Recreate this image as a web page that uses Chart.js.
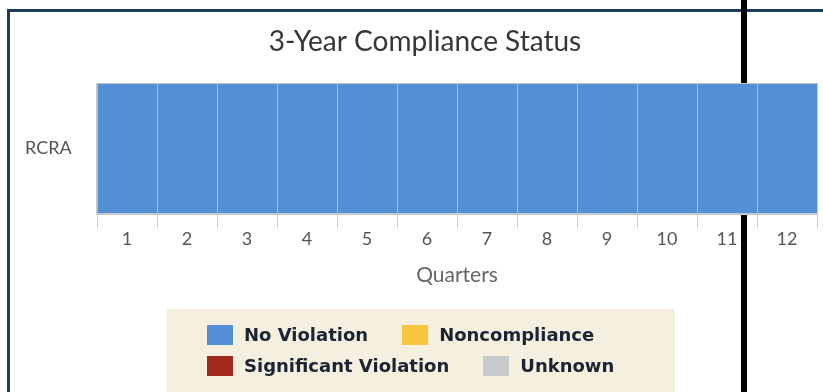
<!DOCTYPE html>
<html>
<head>
<meta charset="utf-8">
<script src="https://cdn.jsdelivr.net/npm/chart.js@4/dist/chart.umd.min.js"></script>
<style>
  html, body { margin: 0; padding: 0; background: #ffffff; }
  body { width: 823px; height: 392px; position: relative; overflow: hidden; }
  #frame {
    position: absolute; left: 7px; top: 9px; right: -10px; bottom: -10px;
    border-top: 3px solid #1f3b5e; border-left: 3px solid #1f3b5e;
  }
  #divider { position: absolute; left: 741px; top: 0; width: 6px; height: 392px; background: #000; }
  #chart { position: absolute; left: 0; top: 0; z-index: 2; }
  #legend {
    position: absolute; left: 166px; top: 309px; width: 509px; height: 83px;
    background: #f4efdf; z-index: 3; box-sizing: border-box; padding: 10px 0 0 41px;
    font-family: "DejaVu Sans", sans-serif; font-weight: bold; font-size: 18px; color: #1c2331;
    filter: blur(0.6px);
  }
  .row { display: flex; align-items: center; height: 31px; }
  .item { display: flex; align-items: center; margin-right: 34px; white-space: nowrap; }
  .swatch { width: 26px; height: 20px; margin-right: 11px; }
</style>
</head>
<body>
<div id="frame"></div>
<div id="divider"></div>
<canvas id="chart" width="823" height="392"></canvas>
<div id="legend"></div>
<script>
// Quarters on the horizontal axis, one program row
const quarters = ['1', '2', '3', '4', '5', '6', '7', '8', '9', '10', '11', '12'];
const programs = ['RCRA'];

// Compliance status of the RCRA program in each quarter
const rcraStatus = ['No Violation', 'No Violation', 'No Violation', 'No Violation',
                    'No Violation', 'No Violation', 'No Violation', 'No Violation',
                    'No Violation', 'No Violation', 'No Violation', 'No Violation'];
// Each quarter fills one full cell of the row
const rcraCell = [1, 1, 1, 1, 1, 1, 1, 1, 1, 1, 1, 1];

// Status legend, in display order (two rows of two)
const statusNames = ['No Violation', 'Noncompliance', 'Significant Violation', 'Unknown'];
const statusColors = ['#528fd6', '#f8c63e', '#a22a1a', '#c8cacd'];

const colorOf = name => statusColors[statusNames.indexOf(name)];

// Outline of the plotting area
const areaOutline = {
  id: 'areaOutline',
  afterDraw(chart) {
    const { ctx, chartArea: a } = chart;
    ctx.save();
    ctx.strokeStyle = '#c9c9c9';
    ctx.lineWidth = 1;
    ctx.strokeRect(Math.round(a.left) - 0.5, Math.round(a.top) - 0.5,
                   Math.round(a.right - a.left) + 1, Math.round(a.bottom - a.top) + 1);
    ctx.restore();
  }
};

Chart.defaults.font.family = 'Lato, "Open Sans", sans-serif';

new Chart(document.getElementById('chart'), {
  type: 'bar',
  data: {
    labels: quarters,
    datasets: [{
      label: programs[0],
      data: rcraCell,
      backgroundColor: rcraStatus.map(colorOf),
      borderWidth: 0,
      barPercentage: 1,
      categoryPercentage: 1
    }]
  },
  options: {
    responsive: false,
    animation: false,
    devicePixelRatio: 1,
    layout: { padding: { left: 33, right: 6, top: 15, bottom: 104 } },
    plugins: {
      legend: { display: false },
      tooltip: { enabled: false },
      title: {
        display: true,
        text: '3-Year Compliance Status',
        color: '#363636',
        font: { size: 28, weight: 'normal' },
        padding: { top: 10, bottom: 25 }
      }
    },
    scales: {
      x: {
        grid: {
          z: 1,
          offset: true,
          color: '#96c3f1',
          tickColor: '#c2d3e6',
          tickLength: 15,
          lineWidth: 1
        },
        border: { z: 1, color: '#c9c9c9' },
        ticks: { color: '#555555', font: { size: 18 }, padding: 0 },
        title: {
          display: true,
          text: 'Quarters',
          color: '#666666',
          font: { size: 21 },
          padding: { top: 13, bottom: 0 }
        }
      },
      y: {
        min: 0,
        max: 1,
        grid: { display: false, drawTicks: false },
        border: { display: false },
        afterBuildTicks: scale => { scale.ticks = [{ value: 0.5 }]; },
        afterFit: scale => { scale.width = 64; },
        ticks: {
          color: '#555555',
          font: { size: 18 },
          mirror: true,
          padding: -72,
          callback: () => programs[0]
        }
      }
    }
  },
  plugins: [areaOutline]
});

// Status legend built from the same status table as the bars
const legend = document.getElementById('legend');
for (let r = 0; r < 2; r++) {
  const row = document.createElement('div');
  row.className = 'row';
  for (let c = 0; c < 2; c++) {
    const i = r * 2 + c;
    const item = document.createElement('div');
    item.className = 'item';
    const sw = document.createElement('span');
    sw.className = 'swatch';
    sw.style.background = statusColors[i];
    const tx = document.createElement('span');
    tx.textContent = statusNames[i];
    item.appendChild(sw);
    item.appendChild(tx);
    row.appendChild(item);
  }
  legend.appendChild(row);
}
</script>
</body>
</html>
